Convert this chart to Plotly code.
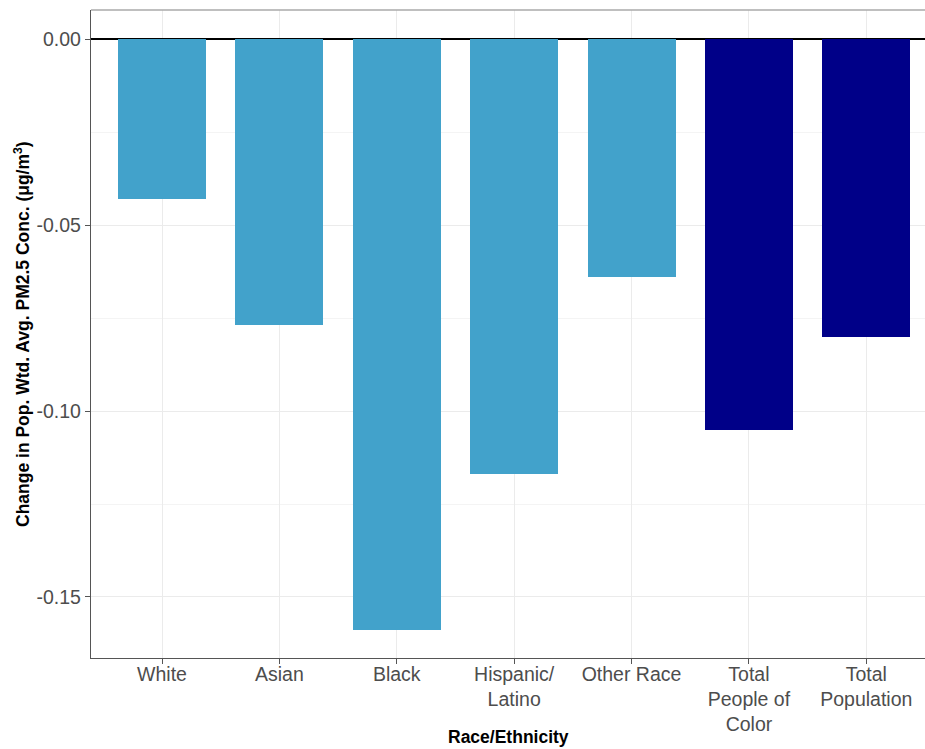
import plotly.graph_objects as go

categories = ["White", "Asian", "Black", "Hispanic/<br>Latino", "Other Race",
              "Total<br>People of<br>Color", "Total<br>Population"]
values = [-0.043, -0.077, -0.159, -0.117, -0.064, -0.105, -0.080]
bar_colors = ["#42A2CB"] * 5 + ["#000088"] * 2
ytick_vals = [0.0, -0.05, -0.10, -0.15]
ytick_text = ["0.00", "-0.05", "-0.10", "-0.15"]

L, R, T, B = 91, 0, 10, 91
W, H = 925, 749
pw = W - L - R

fig = go.Figure()
fig.add_trace(go.Bar(
    x=list(range(len(categories))), y=values,
    marker=dict(color=bar_colors, line=dict(width=0)),
    width=0.75,
))

fig.update_layout(
    width=W, height=H,
    margin=dict(l=L, r=R, t=T, b=B),
    plot_bgcolor="white", paper_bgcolor="white",
    showlegend=False,
    bargap=0,
    font=dict(family="Liberation Sans, Arial, sans-serif"),
    xaxis=dict(
        range=[-0.605, 6.5],
        tickvals=list(range(len(categories))),
        ticktext=categories,
        tickfont=dict(size=19.5, color="#4D4D4D"),
        ticklabelstandoff=-7,
        showgrid=True, gridcolor="#EBEBEB", gridwidth=1,
        showline=True, linecolor="#555555", linewidth=1.3,
        ticks="outside", ticklen=5, tickcolor="#555555",
        zeroline=False, fixedrange=True,
    ),
    yaxis=dict(
        range=[-0.1664, 0.0078],
        tickvals=ytick_vals, ticktext=ytick_text,
        tickfont=dict(size=19.5, color="#4D4D4D"),
        showgrid=True, gridcolor="#EBEBEB", gridwidth=1,
        minor=dict(dtick=0.025, tick0=0, showgrid=True, gridcolor="#F4F4F4", gridwidth=0.7),
        showline=True, linecolor="#555555", linewidth=1.3,
        ticks="outside", ticklen=5, tickcolor="#555555",
        zeroline=True, zerolinecolor="black", zerolinewidth=2,
        fixedrange=True,
    ),
    shapes=[
        dict(type="line", xref="paper", yref="paper", x0=0, x1=1, y0=1, y1=1,
             line=dict(color="#AAAAAA", width=1.3)),
    ],
    annotations=[
        dict(text="<b>Change in Pop. Wtd. Avg. PM2.5 Conc. (μg/m<sup>3</sup>)</b>",
             xref="paper", yref="paper", x=(22 - L) / pw, y=0.5,
             textangle=-90, showarrow=False, xanchor="center", yanchor="middle",
             font=dict(size=17.5, color="black")),
        dict(text="<b>Race/Ethnicity</b>",
             xref="paper", yref="paper", x=0.5, y=-(737 - (H - B)) / (H - T - B),
             showarrow=False, xanchor="center", yanchor="middle",
             font=dict(size=17.5, color="black")),
    ],
)

fig.write_html(
    "out.html",
    config={"displayModeBar": False},
    post_script="document.body.style.margin='0';document.body.style.overflow='hidden';",
)
